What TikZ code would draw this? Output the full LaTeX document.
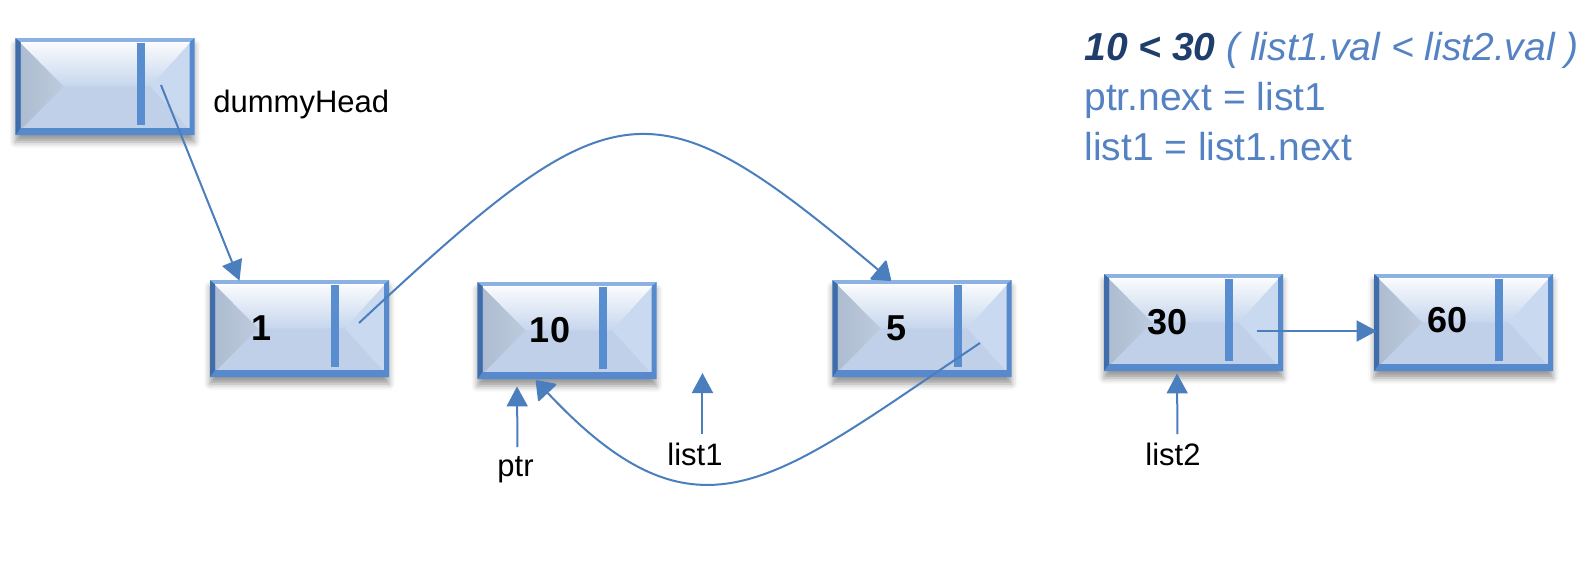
\documentclass[tikz,border=0pt]{standalone}
\usepackage{fontspec}
\setmainfont{Liberation Sans}
\usetikzlibrary{arrows.meta,calc,shadows.blur}

\definecolor{linkblue}{RGB}{74,126,189}
\definecolor{framebl}{RGB}{86,138,205}
\definecolor{framedk}{RGB}{64,108,170}
\definecolor{framelt}{RGB}{140,178,228}
\definecolor{facetop}{RGB}{198,214,237}
\definecolor{facebot}{RGB}{192,208,232}
\definecolor{sidedark}{RGB}{172,186,207}
\definecolor{sideleft}{RGB}{190,203,222}
\definecolor{sideright}{RGB}{201,217,240}
\definecolor{barblue}{RGB}{88,142,208}
\definecolor{condnavy}{RGB}{31,62,108}
\definecolor{codeblue}{RGB}{84,130,194}

\tikzset{
  listnode/.style={rectangle, inner sep=0pt, minimum width=89.5pt, minimum height=48.5pt,
    blur shadow={shadow xshift=0pt, shadow yshift=-3.5pt, shadow blur radius=3pt, shadow opacity=40},
    path picture={
      \def\pb{path picture bounding box}
      \fill[facebot] (\pb.south west) rectangle (\pb.north east);
      \shade[top color=white, bottom color=facetop]
        (\pb.north west) -- (\pb.north east) -- ([xshift=-22pt]\pb.east) -- ([xshift=24pt]\pb.west) -- cycle;
      \shade[left color=sidedark, right color=sideleft]
        (\pb.north west) -- ([xshift=24pt]\pb.west) -- (\pb.south west) -- cycle;
      \fill[sideright] (\pb.north east) -- ([xshift=-22pt]\pb.east) -- (\pb.south east) -- cycle;
      % pointer field divider
      \fill[barblue] ([xshift=60.5pt,yshift=-2pt]\pb.north west) rectangle ([xshift=64.5pt,yshift=5pt]\pb.south west);
      % bevelled frame
      \fill[framebl, even odd rule] (\pb.south west) rectangle (\pb.north east)
        ([xshift=2.5pt,yshift=3.5pt]\pb.south west) rectangle ([xshift=-2.5pt,yshift=-2pt]\pb.north east);
      \fill[framedk] (\pb.south west) -- ([xshift=2.5pt,yshift=3.5pt]\pb.south west)
        -- ([xshift=2.5pt,yshift=-2pt]\pb.north west) -- (\pb.north west) -- cycle;
      \fill[framelt] (\pb.north west) -- ([xshift=2.5pt,yshift=-2pt]\pb.north west)
        -- ([xshift=-2.5pt,yshift=-2pt]\pb.north east) -- (\pb.north east) -- cycle;
      \draw[white, line width=0.6pt] ([xshift=2.5pt,yshift=-2.3pt]\pb.north west) -- ([xshift=-2.5pt,yshift=-2.3pt]\pb.north east);
    }},
  valtext/.style={font=\fontsize{18pt}{21pt}\selectfont\bfseries, inner sep=0pt},
  ptrlabel/.style={font=\fontsize{15.5pt}{18pt}\selectfont, inner sep=0pt, anchor=base west},
  codeline/.style={font=\fontsize{19.5pt}{23pt}\selectfont, text=codeblue, inner sep=0pt, anchor=base west},
  link/.style={draw=linkblue, line width=1pt, -{Triangle[length=10pt,width=10.5pt]}},
  curvelink/.style={draw=linkblue, line width=1pt, -{Triangle[length=9pt,width=13pt,round]}}
}

\begin{document}
\begin{tikzpicture}[x=0.5pt, y=-0.5pt]
  \useasboundingbox (0,0) rectangle (1584,570);
  \node[listnode] (dummy) at (105,86.5) {};
  \node[listnode] (n_1)  at (299.5,328.5) {};
  \node[listnode] (n_10) at (567,330.5) {};
  \node[listnode] (n_5)  at (922,328.5) {};
  \node[listnode] (n_30) at (1193.5,322.5) {};
  \node[listnode] (n_60) at (1463.5,322.5) {};
  \node[valtext] (v_1)  at (262,328.5) {1};
  \node[valtext] (v_10) at (550,330) {10};
  \node[valtext] (v_5)  at (896,328) {5};
  \node[valtext] (v_30) at (1167.5,322.5) {30};
  \node[valtext] (v_60) at (1447.5,320) {60};
  \node[ptrlabel] (dh)    at (213,112) {dummyHead};
  \node[ptrlabel] (ptr)   at (497,476) {ptr};
  \node[ptrlabel] (list1) at (667,465) {list1};
  \node[ptrlabel] (list2) at (1145,465) {list2};
  \node[codeline] (cond)     at (1084,60) {\textcolor{condnavy}{\bfseries\itshape 10 < 30} \textit{( list1.val < list2.val )}};
  \node[codeline] (setnext)  at (1084,110) {ptr.next = list1};
  \node[codeline] (advance)  at (1084,160) {list1 = list1.next};
  % links
  \draw[link] ($(dummy.center)+(56,-1.5)$) -- ($(n_1.north)+(-60,1)$);
  \draw[curvelink] ($(n_1.center)+(59.5,-5.5)$) .. controls +(256,-239) and +(-241,-203) .. ($(n_5.north)+(-31,1)$);
  \draw[curvelink] ($(n_5.center)+(58,14.5)$) .. controls +(-205,137) and +(164,175) .. ($(n_10.south)+(-31,1)$);
  \draw[link] ($(n_30.center)+(63.5,8.5)$) -- ($(n_60.west)+(3,8.5)$);
  % pointers
  \draw[link] ($(ptr.base)+(2,-29)$) -- ($(n_10.south)+(-50,7)$);
  \draw[link] ($(list1.base)+(7.5,-31)$) -- ($(list1.base)+(7.5,-92)$);
  \draw[link] ($(list2.base)+(4.5,-31)$) -- ($(n_30.south)+(-16.5,2)$);
\end{tikzpicture}
\end{document}
